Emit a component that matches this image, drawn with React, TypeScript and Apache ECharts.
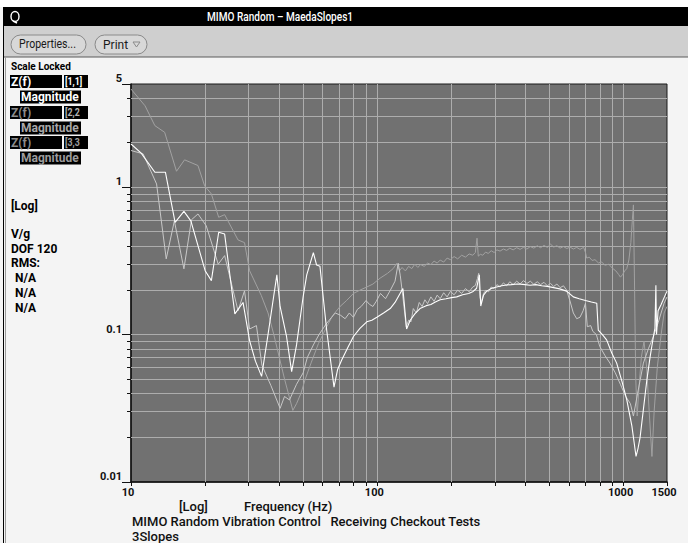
import React, { useEffect, useRef } from "react";
import * as echarts from "echarts";

const FONT = "Roboto, 'DejaVu Sans', sans-serif";

// Axis ranges / tick values
const X_MIN = 10;
const X_MAX = 1500;
const Y_MIN = 0.01;
const Y_MAX = 5;
const yGridValues = [0.02, 0.03, 0.04, 0.05, 0.06, 0.07, 0.08, 0.09, 0.1, 0.2, 0.3, 0.4, 0.5, 0.6, 0.7, 0.8, 0.9, 1, 2, 3, 4];
const xGridValues = [20, 30, 40, 50, 60, 70, 80, 90, 100, 200, 300, 400, 500, 600, 700, 800, 900, 1000];

// Z(f) [1,1] magnitude (white)
const seriesA: [number, number][] = [
  [10, 1.96], [11, 1.7], [12.5, 1.26], [13.8, 1.26], [15.1, 0.577], [16.4, 0.685], [17.5, 0.59], [20, 0.271],
  [21.2, 0.232], [22.7, 0.494], [24, 0.48], [26.4, 0.138], [28.5, 0.165], [30.3, 0.091], [32, 0.066], [33.9, 0.052],
  [36, 0.1], [39.1, 0.254], [40.3, 0.155], [42.8, 0.097], [44.9, 0.056], [47, 0.085], [50, 0.181], [51.7, 0.254],
  [55, 0.359], [56.7, 0.296], [58.5, 0.29], [62.3, 0.107], [66.7, 0.044], [69, 0.058], [71.6, 0.067], [76, 0.082],
  [80, 0.097], [85, 0.11], [90.6, 0.122], [95, 0.125], [99.6, 0.131], [106, 0.14], [112.8, 0.15], [118, 0.165],
  [123.7, 0.19], [127, 0.205], [131.5, 0.109], [136, 0.125], [142, 0.138], [149, 0.15], [158, 0.157], [165, 0.16],
  [172, 0.166], [180, 0.172], [190, 0.175], [200, 0.178], [210, 0.18], [222, 0.186], [235, 0.19], [245, 0.196],
  [253, 0.206], [259.6, 0.254], [263, 0.156], [270, 0.185], [278, 0.197], [290, 0.205], [305, 0.21], [320, 0.214],
  [335, 0.217], [350, 0.218], [370, 0.22], [390, 0.219], [417, 0.216], [440, 0.218], [465, 0.214], [490, 0.212],
  [520, 0.208], [550, 0.204], [587, 0.197], [625, 0.18], [660, 0.175], [700, 0.17], [740, 0.166], [778, 0.163],
  [789, 0.107], [820, 0.1], [853, 0.092], [895, 0.075], [937, 0.064], [985, 0.048], [1030, 0.036], [1080, 0.024],
  [1123, 0.0149], [1145, 0.017], [1166, 0.02], [1200, 0.03], [1242, 0.049], [1280, 0.07], [1321, 0.097], [1340, 0.11],
  [1352, 0.216], [1360, 0.1], [1380, 0.145], [1420, 0.16], [1460, 0.178], [1500, 0.197],
];

// Z(f) [2,2] magnitude (light grey)
const seriesB: [number, number][] = [
  [10, 1.77], [11.2, 1.68], [12.7, 1.05], [13.9, 0.326], [15, 0.59], [16.4, 0.279], [17.6, 0.6], [18.7, 0.657],
  [20.2, 0.547], [22.6, 0.3], [24, 0.343], [27.2, 0.145], [28.9, 0.198], [30.3, 0.109], [32.3, 0.115], [34, 0.062],
  [37, 0.045], [40.3, 0.0316], [42, 0.038], [44, 0.036], [47, 0.046], [50, 0.055], [52, 0.07], [55, 0.085],
  [58, 0.1], [62, 0.118], [65, 0.13], [67.5, 0.14], [71, 0.135], [74, 0.128], [77, 0.14], [80, 0.131],
  [83, 0.148], [86, 0.155], [90, 0.17], [93, 0.16], [96, 0.155], [99, 0.168], [103, 0.19], [108, 0.175],
  [113, 0.2], [118, 0.23], [121.6, 0.304], [124, 0.25], [127, 0.18], [131, 0.113], [134, 0.125], [137, 0.122],
  [140, 0.15], [144, 0.14], [148, 0.165], [152, 0.155], [156, 0.172], [160, 0.162], [165, 0.18], [170, 0.168],
  [175, 0.185], [180, 0.175], [186, 0.192], [192, 0.18], [198, 0.196], [205, 0.186], [212, 0.2], [220, 0.19],
  [228, 0.205], [236, 0.195], [244, 0.21], [250, 0.215], [255, 0.24], [258, 0.26], [261, 0.18], [264, 0.165],
  [270, 0.19], [276, 0.2], [283, 0.195], [290, 0.21], [298, 0.205], [306, 0.218], [315, 0.21], [325, 0.224],
  [335, 0.214], [345, 0.228], [356, 0.218], [368, 0.23], [380, 0.22], [392, 0.232], [405, 0.222], [418, 0.23],
  [432, 0.219], [446, 0.228], [460, 0.218], [475, 0.226], [490, 0.214], [505, 0.222], [520, 0.212], [536, 0.22],
  [552, 0.208], [570, 0.214], [587, 0.2], [605, 0.17], [625, 0.14], [645, 0.128], [665, 0.131], [685, 0.145],
  [700, 0.163], [712, 0.113], [735, 0.115], [750, 0.105], [775, 0.1], [800, 0.083], [840, 0.072], [880, 0.064],
  [925, 0.055], [970, 0.046], [1020, 0.038], [1065, 0.034], [1096, 0.028], [1140, 0.04], [1203, 0.064], [1260, 0.08],
  [1321, 0.097], [1380, 0.12], [1460, 0.163], [1500, 0.18],
];

// Z(f) [3,3] magnitude (dark grey)
const seriesC: [number, number][] = [
  [10, 4.62], [11.4, 3.56], [12.5, 2.61], [13.7, 2.35], [15.3, 1.28], [16.5, 1.53], [18.7, 1.4], [19.9, 1.02],
  [21.2, 0.898], [22.7, 0.624], [24, 0.65], [27.2, 0.438], [28.9, 0.42], [30.3, 0.271], [33.8, 0.184], [36, 0.14],
  [38, 0.1], [40, 0.07], [42, 0.05], [45.4, 0.0306], [47, 0.034], [49, 0.04], [51, 0.05], [54, 0.065],
  [57.7, 0.087], [62.3, 0.113], [66, 0.135], [70.6, 0.155], [75, 0.17], [80, 0.19], [85, 0.2], [90.6, 0.21],
  [96, 0.22], [102.6, 0.241], [110, 0.26], [116, 0.28], [120, 0.304], [123, 0.27], [126, 0.285], [130, 0.27],
  [134, 0.29], [138, 0.28], [142, 0.3], [146, 0.285], [150, 0.298], [155, 0.29], [160, 0.305], [165, 0.298],
  [170, 0.315], [175, 0.305], [180, 0.32], [186, 0.31], [192, 0.33], [198, 0.322], [205, 0.338], [212, 0.326],
  [220, 0.345], [228, 0.335], [236, 0.352], [244, 0.345], [250, 0.36], [254, 0.45], [257, 0.34], [262, 0.35],
  [268, 0.345], [275, 0.362], [282, 0.355], [290, 0.37], [298, 0.36], [306, 0.375], [315, 0.368], [325, 0.38],
  [335, 0.372], [345, 0.385], [356, 0.375], [368, 0.388], [380, 0.378], [392, 0.39], [405, 0.38], [418, 0.395],
  [432, 0.385], [446, 0.4], [460, 0.388], [475, 0.402], [490, 0.39], [505, 0.41], [520, 0.392], [536, 0.4],
  [552, 0.385], [570, 0.395], [588, 0.383], [606, 0.392], [625, 0.38], [645, 0.39], [665, 0.378], [688, 0.39],
  [700, 0.36], [708, 0.33], [725, 0.335], [745, 0.318], [765, 0.322], [790, 0.306], [815, 0.31], [840, 0.295],
  [870, 0.3], [900, 0.282], [930, 0.27], [955, 0.255], [971, 0.245], [990, 0.255], [1010, 0.27], [1030, 0.28],
  [1050, 0.32], [1070, 0.42], [1085, 0.6], [1096, 0.757], [1108, 0.2], [1120, 0.05], [1135, 0.028], [1150, 0.04],
  [1180, 0.07], [1210, 0.09], [1240, 0.06], [1270, 0.03], [1303, 0.0149], [1330, 0.03], [1370, 0.06], [1420, 0.1],
  [1460, 0.14], [1500, 0.155],
];

const lineColors = ["#ffffff", "#c8c8c8", "#a2a2a2"];
const legendIds = ["[1,1]", "[2,2", "[3,3"];
const legendIdColors = ["#ffffff", "#b4b4b4", "#a0a0a0"];
const legendZfColors = ["#ffffff", "#8c8c8c", "#8c8c8c"];
const legendMagColors = ["#ffffff", "#a8a8a8", "#9c9c9c"];
const sideInfo = ["V/g", "DOF 120", "RMS:"];
const rmsValues = ["N/A", "N/A", "N/A"];

function txt(x: number, y: number, text: string, font: string, fill: string, align = "left", extra: any = {}) {
  return {
    type: "text",
    x,
    y,
    z: 10,
    silent: true,
    ...extra,
    style: { text, font, fill, align, verticalAlign: "middle", textAlign: align, textVerticalAlign: "middle" },
  };
}

function buildGraphic() {
  const els: any[] = [];
  // window chrome
  els.push({ type: "rect", shape: { x: 0, y: 0, width: 688, height: 7 }, style: { fill: "#ffffff" }, silent: true });
  els.push({ type: "rect", shape: { x: 3, y: 8, width: 685, height: 18 }, style: { fill: "#000000" }, silent: true });
  els.push({ type: "line", shape: { x1: 3, y1: 7.5, x2: 688, y2: 7.5 }, style: { stroke: "#000", lineWidth: 1 }, silent: true });
  els.push(txt(207, 17, "MIMO Random – MaedaSlopes1", `500 12px ${FONT}`, "#ffffff", "left", { scaleX: 0.84 }));
  els.push({ type: "ellipse", shape: { cx: 15, cy: 16.5, rx: 4, ry: 5 }, style: { fill: "none", stroke: "#ffffff", lineWidth: 1.4 }, silent: true });
  els.push({ type: "line", shape: { x1: 13, y1: 21, x2: 17, y2: 23 }, style: { stroke: "#ffffff", lineWidth: 1.4 }, silent: true });
  els.push({ type: "rect", shape: { x: 3, y: 26, width: 685, height: 31 }, style: { fill: "#cfcfcf" }, silent: true });
  els.push({ type: "line", shape: { x1: 3, y1: 57, x2: 688, y2: 57 }, style: { stroke: "#5a5a5a", lineWidth: 1 }, silent: true });
  els.push({ type: "rect", shape: { x: 11, y: 35, width: 75, height: 19, r: 9.5 }, style: { fill: "#d8d8d8", stroke: "#8a8a8a", lineWidth: 1 }, silent: true });
  els.push(txt(19, 44.5, "Properties...", `12px ${FONT}`, "#1a1a1a", "left", { scaleX: 0.88 }));
  els.push({ type: "rect", shape: { x: 95, y: 35, width: 52, height: 19, r: 9.5 }, style: { fill: "#d8d8d8", stroke: "#8a8a8a", lineWidth: 1 }, silent: true });
  els.push(txt(103, 44.5, "Print", `12px ${FONT}`, "#1a1a1a", "left"));
  els.push({ type: "polygon", shape: { points: [[133, 42], [140, 42], [136.5, 47]] }, style: { fill: "none", stroke: "#8a8a8a", lineWidth: 1 }, silent: true });
  els.push({ type: "line", shape: { x1: 3.5, y1: 7, x2: 3.5, y2: 543 }, style: { stroke: "#000", lineWidth: 1 }, silent: true });
  els.push({ type: "line", shape: { x1: 5.5, y1: 57, x2: 5.5, y2: 543 }, style: { stroke: "#9a9a9a", lineWidth: 1 }, silent: true });

  // left panel
  els.push(txt(11, 66, "Scale Locked", `bold 10px ${FONT}`, "#000"));
  const rowY = [81, 112, 142];
  for (let i = 0; i < 3; i++) {
    const y = rowY[i];
    els.push({ type: "rect", shape: { x: 10, y: y - 6, width: 52, height: 13 }, style: { fill: "#000" }, silent: true });
    els.push(txt(11, y + 0.5, "Z(f)", `bold 12px ${FONT}`, legendZfColors[i]));
    els.push({ type: "rect", shape: { x: 64, y: y - 6, width: 24, height: 13 }, style: { fill: "#000" }, silent: true });
    els.push(txt(65, y + 0.5, legendIds[i], `bold 11px ${FONT}`, legendIdColors[i], "left", { scaleX: 0.8 }));
    const my = y + 15.5;
    els.push({ type: "rect", shape: { x: 20, y: my - 6, width: 61, height: 13 }, style: { fill: "#000" }, silent: true });
    els.push(txt(21, my + 0.5, "Magnitude", `bold 12px ${FONT}`, legendMagColors[i]));
  }
  els.push(txt(11, 206, "[Log]", `bold 12px ${FONT}`, "#000"));
  sideInfo.forEach((s, i) => els.push(txt(11, 234 + i * 14.5, s, `bold 12px ${FONT}`, "#000")));
  rmsValues.forEach((s, i) => els.push(txt(15, 278 + i * 15, s, `bold 12px ${FONT}`, "#000")));

  // x axis captions
  els.push(txt(179, 506, "[Log]", `500 13px ${FONT}`, "#111"));
  els.push(txt(244, 506, "Frequency (Hz)", `500 13px ${FONT}`, "#111"));
  els.push(txt(132, 521, "MIMO Random Vibration Control   Receiving Checkout Tests", `500 13px ${FONT}`, "#111"));
  els.push(txt(132, 536, "3Slopes", `500 13px ${FONT}`, "#111"));
  return els;
}

function fmtY(v: number) {
  return String(parseFloat(Number(v).toPrecision(3)));
}

function buildOption() {
  const gridLine = { color: "#adadad", width: 1, type: "solid" };
  const tickLine = { color: "#111111", width: 1, type: "solid" };
  return {
    animation: false,
    backgroundColor: "#f4f4f4",
    textStyle: { fontFamily: FONT },
    grid: [
      { left: 131, top: 84, width: 536, height: 398, show: true, backgroundColor: "#717171", borderColor: "#1a1a1a", borderWidth: 1, z: 0 },
      { left: 127, top: 84, width: 4, height: 398, show: false },
      { left: 131, top: 482, width: 536, height: 4, show: false },
    ],
    xAxis: [
      {
        type: "log", logBase: 10, gridIndex: 0, min: X_MIN, max: X_MAX,
        axisLine: { show: true, onZero: false, lineStyle: { color: "#111", width: 1.5 } },
        axisTick: { show: true, length: 4, lineStyle: { color: "#111" } },
        axisLabel: {
          show: true, color: "#111", fontSize: 11, fontWeight: "bold", fontFamily: FONT, margin: 5,
          padding: [0, 6, 0, 0], showMinLabel: true, showMaxLabel: true,
          formatter: (v: number) => String(Math.round(v)),
        },
        splitLine: { show: false },
      },
      { type: "value", gridIndex: 1, min: 0, max: 1, show: false },
      { type: "log", logBase: 10, gridIndex: 2, min: X_MIN, max: X_MAX, show: false },
    ],
    yAxis: [
      {
        type: "log", logBase: 10, gridIndex: 0, min: Y_MIN, max: Y_MAX,
        axisLine: { show: true, onZero: false, lineStyle: { color: "#111", width: 1.5 } },
        axisTick: { show: true, length: 9, lineStyle: { color: "#111" } },
        axisLabel: {
          show: true, color: "#111", fontSize: 11, fontWeight: "bold", fontFamily: FONT, margin: 9,
          verticalAlign: "bottom", showMinLabel: true, showMaxLabel: true, formatter: fmtY,
        },
        splitLine: { show: false },
      },
      { type: "log", logBase: 10, gridIndex: 1, min: Y_MIN, max: Y_MAX, show: false },
      { type: "value", gridIndex: 2, min: 0, max: 1, show: false },
    ],
    series: [
      {
        type: "line", name: "grid", xAxisIndex: 0, yAxisIndex: 0, data: [], silent: true, z: 1,
        markLine: {
          silent: true, symbol: "none", z: 1, animation: false, label: { show: false },
          lineStyle: gridLine, emphasis: { disabled: true },
          data: [...yGridValues.map((v) => ({ yAxis: v })), ...xGridValues.map((v) => ({ xAxis: v }))],
        },
      },
      {
        type: "line", name: "yticks", xAxisIndex: 1, yAxisIndex: 1, data: [], silent: true,
        markLine: {
          silent: true, symbol: "none", animation: false, label: { show: false },
          lineStyle: tickLine, emphasis: { disabled: true },
          data: yGridValues.map((v) => ({ yAxis: v })),
        },
      },
      {
        type: "line", name: "xticks", xAxisIndex: 2, yAxisIndex: 2, data: [], silent: true,
        markLine: {
          silent: true, symbol: "none", animation: false, label: { show: false },
          lineStyle: tickLine, emphasis: { disabled: true },
          data: xGridValues.map((v) => ({ xAxis: v })),
        },
      },
      {
        type: "line", name: "Z(f) [3,3]", data: seriesC, showSymbol: false, symbol: "none", z: 3,
        lineStyle: { color: lineColors[2], width: 1 }, silent: true,
      },
      {
        type: "line", name: "Z(f) [2,2]", data: seriesB, showSymbol: false, symbol: "none", z: 3,
        lineStyle: { color: lineColors[1], width: 1 }, silent: true,
      },
      {
        type: "line", name: "Z(f) [1,1]", data: seriesA, showSymbol: false, symbol: "none", z: 4,
        lineStyle: { color: lineColors[0], width: 1.1 }, silent: true,
      },
    ],
    graphic: { elements: buildGraphic() },
  };
}

export default function App() {
  const ref = useRef<HTMLDivElement>(null);
  useEffect(() => {
    if (!ref.current) return;
    const chart = echarts.init(ref.current, null, { renderer: "svg" });
    chart.setOption(buildOption() as any);
    return () => chart.dispose();
  }, []);
  return <div ref={ref} style={{ position: "fixed", left: 0, top: 0, width: 688, height: 543 }} />;
}
